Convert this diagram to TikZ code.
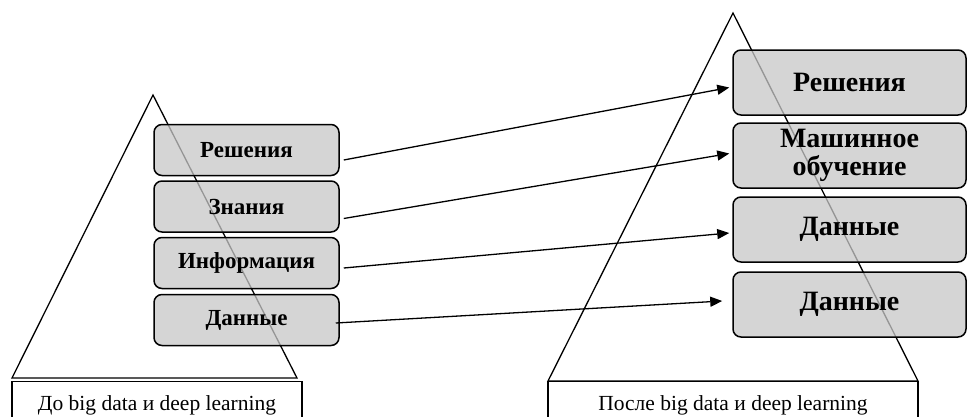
\documentclass[tikz,border=0pt]{standalone}
\usepackage{fontspec}
\setmainfont{Liberation Serif}
\usetikzlibrary{arrows.meta,calc}

\tikzset{
  pyr/.style={draw=black, line width=1.3pt, line join=miter},
  lvl/.style={draw=black, line width=1.5pt, rounded corners=8pt,
    fill=black!22, fill opacity=0.75, text opacity=1,
    font=\bfseries\fontsize{23}{25}\selectfont, inner sep=0pt},
  lvlbig/.style={lvl, font=\bfseries\fontsize{28}{28}\selectfont, align=center},
  caption/.style={draw=black, line width=1.2pt, fill=white, anchor=north,
    inner xsep=0pt, inner ysep=16pt, text height=13pt, text depth=6pt,
    font=\fontsize{21.5}{24}\selectfont},
  link/.style={draw=black, line width=1.3pt,
    -{Triangle[length=12pt,width=10pt]}}
}

\begin{document}
\begin{tikzpicture}[x=1pt,y=-1pt]
  \useasboundingbox (0,0) rectangle (967,416);
  \clip (0,0) rectangle (967,416);

  % pyramids
  \draw[pyr] (153,95) -- (297,378) -- (12,378) -- cycle;
  \draw[pyr] (733,13) -- (918,381) -- (548,381) -- cycle;

  % captions below the pyramids (bottom edge runs off the page)
  \node[caption, minimum width=290pt] (capL) at (157,381) {До big data и deep learning};
  \node[caption, minimum width=370pt] (capR) at (733,381) {После big data и deep learning};

  % levels before
  \node[lvl, minimum width=185pt, minimum height=51pt] (l1) at (246.5,150) {Решения};
  \node[lvl, minimum width=185pt, minimum height=51pt] (l2) at (246.5,206.5) {Знания};
  \node[lvl, minimum width=185pt, minimum height=51pt] (l3) at (246.5,263) {Информация};
  \node[lvl, minimum width=185pt, minimum height=51pt] (l4) at (246.5,320) {Данные};

  % levels after
  \node[lvlbig, minimum width=233pt, minimum height=65pt] (r1) at (849.5,82.5) {Решения};
  \node[lvlbig, minimum width=233pt, minimum height=65pt] (r2) at (849.5,155.5) {Машинное\\обучение};
  \node[lvlbig, minimum width=233pt, minimum height=65pt] (r3) at (849.5,229.5) {Данные};
  \node[lvlbig, minimum width=233pt, minimum height=65pt] (r4) at (849.5,304.5) {Данные};

  % transitions
  \draw[link] ($(l1.east)+(4,10)$) -- ($(r1.west)+(-3,5)$);
  \draw[link] ($(l2.east)+(4,12)$) -- ($(r2.west)+(-3,-2)$);
  \draw[link] ($(l3.east)+(4,5)$) -- ($(r3.west)+(-3,3.5)$);
  \draw[link] ($(l4.east)+(-4,3)$) -- ($(r4.west)+(-10,-3.5)$);
\end{tikzpicture}
\end{document}
